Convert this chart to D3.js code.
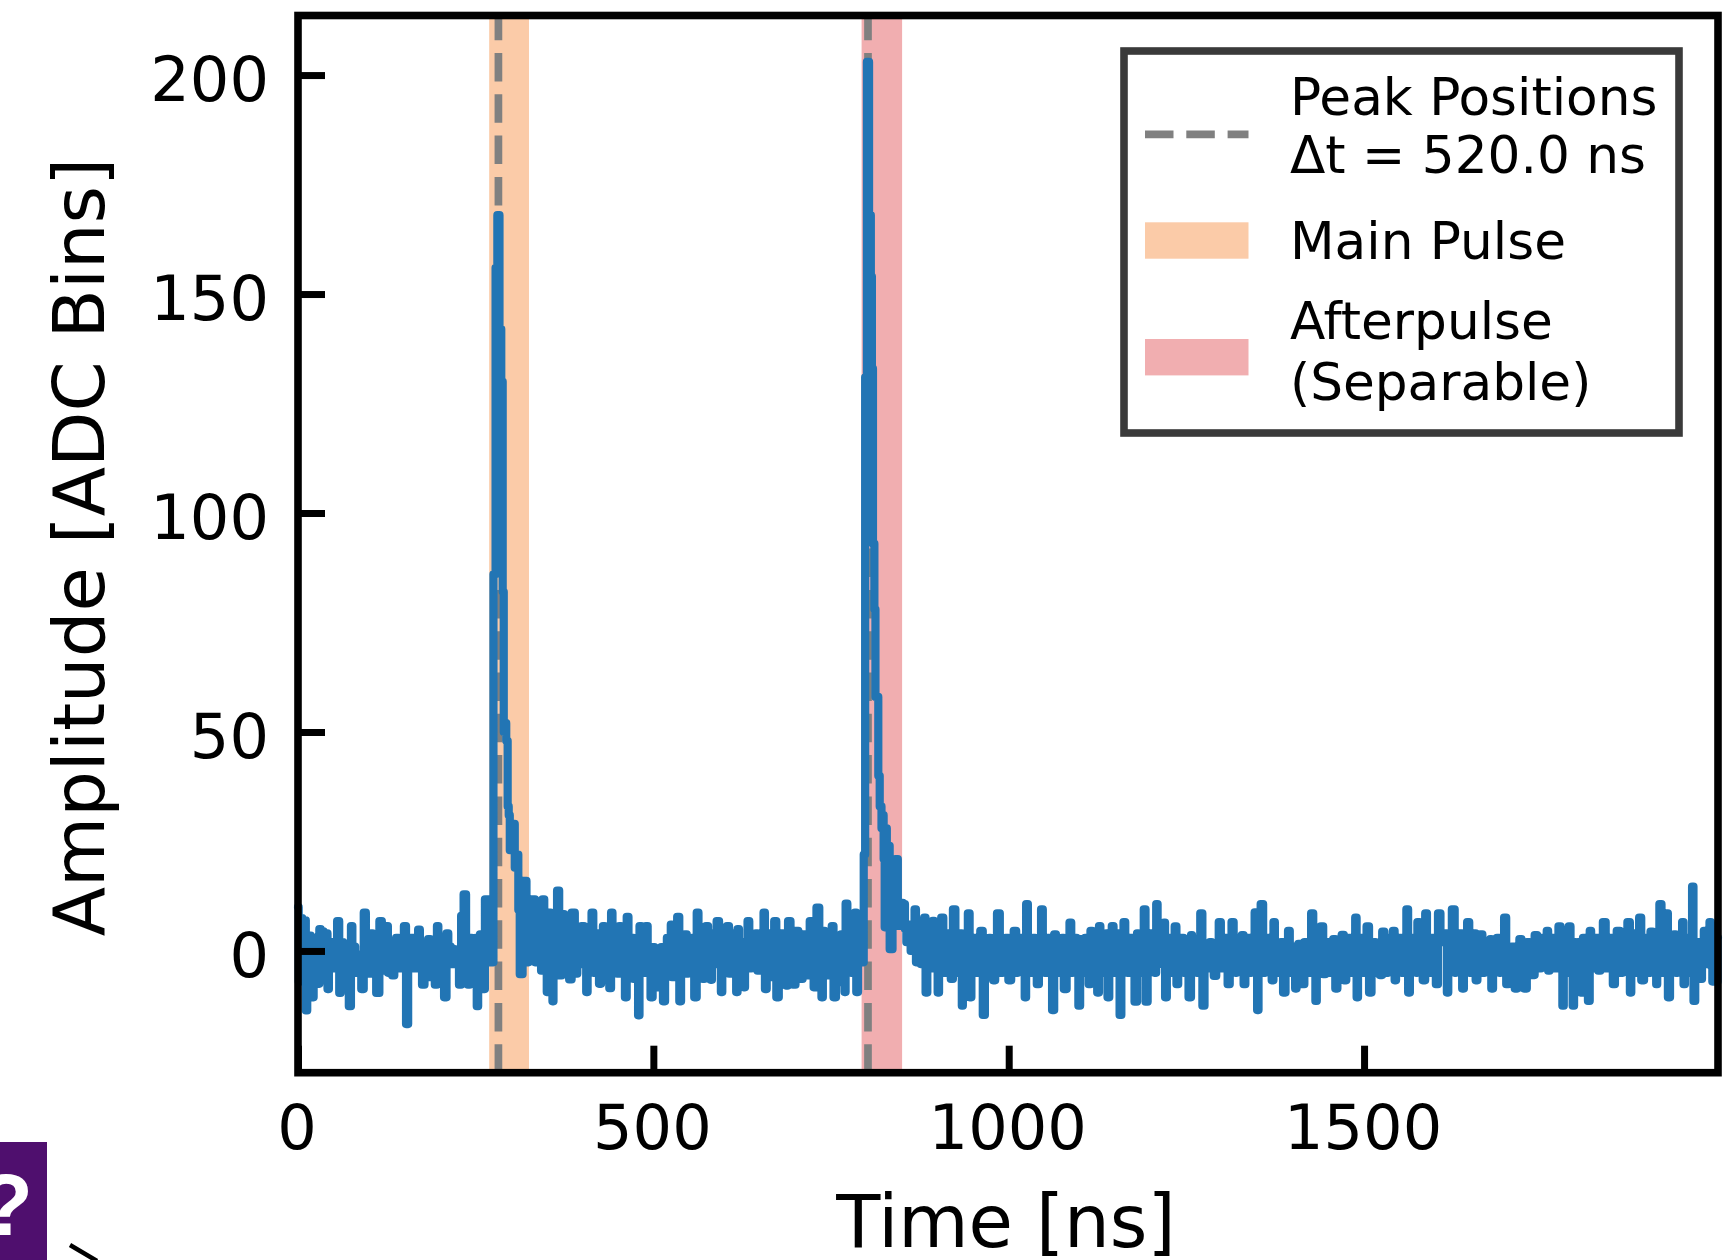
<!DOCTYPE html>
<html>
<head>
<meta charset="utf-8">
<script src="https://cdnjs.cloudflare.com/ajax/libs/d3/7.8.5/d3.min.js"></script>
<style>
body { margin: 0; background: #fff; }
svg { display: block; filter: blur(0.6px); }
text { font-family: "DejaVu Sans"; fill: #000; }
</style>
</head>
<body>
<script>
//pseudo global variables: [time ns, amplitude ADC bins]
//upper side of the waveform, spikes and shoulders
var upperPoints = [[0,10],[5,7.5],[10,7],[17,3.5],[23,3],[31,5],[36,4.5],[41,4],[50,2],[57,6.8],[66,1],[75,5.7],[84,-0.8],[94,8.75],[103,4],[116,6.8],[125,5.7],[139,3],[151,5.7],[161,3],[170,4.9],[186,2.7],[196,5.7],[203,1],[210,4],[219,0.4],[231,8],[235,12.9],[243,3],[251,3],[257,3.8],[264,11.8],[268,11.8],
    [277,86],[279,156],[282,168],[285,142],[287,130],[289,82],[292,52],[294,48],[297,31],[304,29],[309,22],[319,16],[325,11],[331,11.8],[338,8],[345,11.8],[354,8.75],[360,6],[366,13.8],[373,8.4],[380,5],[387,8.75],[394,4],[401,5.7],[408,4],[415,8.75],[422,4],[430,5.7],[436,4],[441,8.75],[447,4],[453,5.7],[458,4],[463,7.8],[472,3],[481,5.7],[490,5.7],[500,0.9],[512,0.9],[520,3],[526,6],[536,7.8],[547,3.8],[555,3],[562,8.75],[569,4],[575,5.7],[583,4],[591,6.8],[598,4],[605,5.7],[612,4],[619,5],[627,2],[634,6.8],[640,3],[645,4],[651,3],[656,8.75],[664,4],[671,6.8],[681,4],[691,6.8],[702,4.6],[711,3.8],[721,6.8],[732,9.9],[739,4.6],[746,3],[752,5.7],[765,3.8],[771,10.8],[778,4],[785,8.75],
    [797,22],[799,131],[802,203],[805,168],[807,154],[808,133],[810,93],[812,78],[814,58],[816,58],[817,40],[820,33],[823,31],[827,28],[830,24],[838,12],[843,21],[848,11],
    [854,10.7],[862,6],[869,9.5],[875,5],[882,7.6],[888,5],[894,6.9],[900,4],[906,7.6],[914,4],[923,9.5],[934,4],[945,8.6],[953,3],[962,4.6],[973,3],[985,8.6],[997,3],[1009,4.6],[1017,3],[1025,10.7],[1036,3],[1047,9.5],[1056,3],[1065,3.8],[1076,3],[1087,6.5],[1094,3],[1102,2.7],[1109,3],[1116,4.6],[1128,5.7],[1138,4],[1147,5.7],[1155,4],[1163,6.6],[1172,3],[1182,4],[1191,9.5],[1200,4],[1208,10.7],[1214,4],[1220,6.5],[1228,3],[1235,5.6],[1246,3],[1257,3.6],[1264,2],[1271,8.6],[1284,2],[1297,6.6],[1306,3],[1315,6.6],[1322,3],[1330,3.6],[1340,3],[1349,8.8],[1356,10.7],[1365,3],[1373,6.6],[1384,2],[1395,4.6],[1402,1],[1409,1.6],[1418,2],[1427,8.6],[1434,3],[1441,5.6],[1450,2],[1458,2.7],[1464,2],[1470,3.7],[1480,3],[1489,7.6],[1497,3],[1505,5.6],[1516,2],[1527,4.4],[1535,3],[1543,4.6],[1552,3],[1561,9.5],[1569,3],[1576,6.6],[1587,8.6],[1596,3],[1605,8.6],[1616,4],[1627,9.5],[1637,4],[1648,6.6],[1656,4],[1665,3.8],[1672,2],[1679,2.7],[1690,3],[1699,7.6],[1710,1],[1720,2.7],[1731,2],[1742,3.6],[1750,3],[1759,4.6],[1767,3],[1775,5.6],[1782,2],[1789,5.6],[1796,2],[1803,2],[1810,3],[1818,4.6],[1828,3],[1838,6.6],[1848,3],[1857,4.6],[1865,3],[1873,6.6],[1880,4],[1888,7.6],[1896,3],[1904,4.4],[1911,3],[1917,10.7],[1926,8.6],[1932,3],[1937,3.8],[1943,3],[1949,6.6],[1956,3],[1963,14.7],[1971,2],[1979,4.6],[1988,6.6],[1998,3]];
//lower side of the waveform, dips
var lowerPoints = [[2,-7],[7,-5],[12,-13.6],[21,-10.6],[29,-7.5],[36,-4],[42,-8.7],[50,-3],[59,-9.6],[66,-5],[74,-12.6],[83,-5],[91,-8.7],[97,-3],[102,-5.2],[113,-9.6],[123,-4.5],[128,-5],[134,-5.6],[144,-4],[153,-16.7],[165,-4],[176,-7.7],[186,-6],[195,-7.7],[202,-4],[208,-10.6],[217,-3],[228,-7.7],[240,-7.7],[246,-4],[252,-12.6],[262,-8.7],[273,-2.6],
    [290,50],[296,33],[299,23],[306,19],[311,9.4],[313,-5.3],[324,-2.6],[336,-2.6],[343,-4.5],[352,-9.4],[359,-11.5],[369,-5.6],[376,-4],[383,-6.5],[392,-5.2],[407,-9.4],[416,-5],[425,-7.5],[433,-5],[440,-8.5],[451,-5.2],[462,-10.6],[472,-6.4],[480,-14.7],[489,-5],[498,-10.6],[507,-8.3],[515,-11.5],[526,-6],[537,-11.5],[547,-5.2],[554,-5],[560,-10.6],[570,-6.4],[582,-6.6],[596,-9.4],[608,-5.2],[618,-9.4],[627,-8.3],[636,-4],[648,-4.5],[658,-8.7],[666,-6],[675,-10.6],[688,-7.9],[698,-7.7],[709,-6.4],[719,-5.6],[727,-8.3],[738,-10.6],[746,-5.6],[755,-10.6],[763,-7.1],[770,-9.4],[778,-5],[786,-9.4],[795,-2.6],
    [813,58],[822,28],[825,21],[826,5.4],[835,0.4],[845,5.7],
    [854,5],[862,0],[870,-2.6],[877,-3],[884,-9.5],[892,-4],[900,-9.5],[910,-5],[920,-6.4],[927,-5],[934,-12.5],[940,-5],[945,-10.6],[955,-5],[965,-14.6],[972,-5],[980,-6.7],[990,-5],[1002,-6.7],[1012,-5],[1024,-10.6],[1032,-5],[1041,-7.6],[1052,-5],[1063,-13.5],[1071,-5],[1079,-8.7],[1089,-5],[1099,-12.5],[1106,-5],[1114,-7.6],[1126,-9.5],[1133,-5],[1140,-10.6],[1148,-5],[1157,-14.6],[1168,-5],[1179,-11.6],[1186,-5],[1194,-11.6],[1207,-5],[1220,-10.6],[1228,-5],[1237,-7.6],[1246,-5],[1256,-10.6],[1265,-5],[1274,-12.5],[1282,-4],[1290,-5.7],[1300,-4],[1310,-7.6],[1320,-5],[1331,-7.6],[1340,-5],[1350,-13.5],[1360,-5],[1372,-6.7],[1380,-5],[1388,-9.5],[1396,-5],[1404,-8.6],[1414,-7.6],[1424,-5],[1433,-11.4],[1444,-5.3],[1452,-5],[1461,-8.6],[1473,-6.7],[1482,-5],[1490,-10.6],[1500,-5],[1509,-9.5],[1516,-5],[1524,-5.5],[1533,-5],[1543,-6.7],[1553,-5],[1563,-9.5],[1574,-5],[1585,-6.7],[1594,-5],[1603,-7.6],[1617,-9.5],[1628,-5],[1639,-8.6],[1648,-5],[1658,-6.7],[1668,-5],[1679,-8.6],[1690,-5],[1701,-7.6],[1714,-8.6],[1727,-8.6],[1738,-5.5],[1748,-4],[1759,-4.5],[1770,-4],[1780,-12.5],[1787,-5],[1795,-12.5],[1806,-9.5],[1817,-11.4],[1824,-4],[1831,-4.5],[1842,-4],[1852,-7.6],[1863,-5],[1875,-9.5],[1884,-5],[1892,-6.7],[1902,-5],[1911,-7.6],[1920,-5],[1929,-10.6],[1940,-5],[1950,-7.6],[1957,-5],[1964,-11.4],[1974,-6.4],[1981,-3],[1988,-3.4],[1992,-7],[1997,-7]];
//middle of the trace, the part that reads as a solid band
var bandPoints = [[14,-3],[19,2],[25,-3],[33,2],[39,-3],[45,1],[53,-4],[61,2],[69,-3],[78,1],[87,-3],[99,2],[107,-4],[120,2],[131,-3],[137,1],[147,-3],[157,2],[168,-3],[173,1],[180,-4],[190,1],[199,-3],[213,1],[222,-3],[225,0],[238,2],[249,-3],[255,1],[259,-3],
    [341,2],[348,-3],[357,2],[363,-3],[378,2],[397,-3],[404,1],[411,-3],[419,2],[428,-3],[444,-3],[456,2],[467,-3],[477,1],[485,-3],[494,0],[503,-3],[510,0],[518,-3],[523,1],[531,-3],[541,2],[551,-3],[565,2],[573,-3],[579,2],[587,-3],[594,2],[602,-3],[615,-2],[622,2],[631,-3],[643,1],[654,-3],[661,2],[669,-3],[678,1],[685,-3],[695,2],[706,-3],[715,2],[724,-3],[735,2],[743,-3],[750,1],[759,-3],[768,2],[775,-3],[782,2],[790,-2],
    [858,2],[866,2],[873,1],[880,2],[887,-3],[896,2],[904,-3],[917,2],[930,-3],[937,2],[950,-3],[958,2],[968,-3],[976,2],[982,-3],[994,2],[1005,-3],[1014,1],[1021,-3],[1029,2],[1038,-3],[1044,2],[1049,-3],[1059,2],[1068,-3],[1074,1],[1084,-3],[1092,2],[1097,-3],[1104,1],[1111,-3],[1119,2],[1123,-3],[1130,2],[1136,-3],[1143,2],[1151,-3],[1160,2],[1165,-3],[1175,1],[1183,-3],[1189,2],[1197,-3],[1203,2],[1211,-3],[1217,2],[1225,-3],[1232,2],[1240,-3],[1250,1],[1259,-3],[1268,1],[1277,-3],[1287,1],[1294,-3],[1303,2],[1312,-3],[1318,2],[1326,-3],[1335,2],[1343,-3],[1353,2],[1362,-3],[1368,2],[1376,-3],[1382,1],[1391,-3],[1399,1],[1406,-3],[1412,1],[1421,-3],[1430,2],[1437,-3],[1447,1],[1455,-3],[1467,1],[1477,-3],[1486,2],[1493,-3],[1502,2],[1512,-3],[1520,1],[1530,-3],[1538,2],[1547,-3],[1558,2],[1566,-3],[1572,2],[1580,-3],[1590,2],[1599,-3],[1610,2],[1620,-3],[1631,2],[1642,-3],[1652,2],[1661,-3],[1676,1],[1684,-3],[1695,2],[1705,-2],[1717,1],[1723,-3],[1734,1],[1745,-2],[1755,2],[1763,-2],[1772,2],[1778,-3],[1785,1],[1792,-3],[1799,1],[1813,-2],[1821,2],[1834,2],[1845,-2],[1854,2],[1868,-3],[1877,2],[1886,-3],[1899,2],[1908,-3],[1914,2],[1923,-3],[1935,1],[1946,-3],[1953,2],[1960,-3],[1968,2],[1977,-3],[1984,1],[1995,-3]];

var peakTimes = [282, 802];
var mainWindow = [269, 325];
var afterWindow = [793, 850];
var xTicks = [0, 500, 1000, 1500];
var yTicks = [0, 50, 100, 150, 200];
var xDomain = [0, 1998];
var yDomain = [-27.8, 213.6];

var blue = "#2275b4", gray = "#808080", orange = "#fbcba8", pink = "#f1aeb0";

var width = 1735, height = 1260;
var left = 298, right = 1718, top_ = 15.5, bottom = 1072.7;

var svg = d3.select("body").append("svg")
    .attr("width", width)
    .attr("height", height);

var x = d3.scaleLinear().domain(xDomain).range([left, right]);
var y = d3.scaleLinear().domain(yDomain).range([bottom, top_]);

//shaded pulse windows
svg.append("rect")
    .attr("x", x(mainWindow[0]))
    .attr("width", x(mainWindow[1]) - x(mainWindow[0]))
    .attr("y", top_)
    .attr("height", bottom - top_)
    .attr("fill", orange);
svg.append("rect")
    .attr("x", x(afterWindow[0]))
    .attr("width", x(afterWindow[1]) - x(afterWindow[0]))
    .attr("y", top_)
    .attr("height", bottom - top_)
    .attr("fill", pink);

//dashed peak lines, drawn from the bottom up so the dashes start at the axis
svg.selectAll(".peak")
    .data(peakTimes)
    .enter()
    .append("line")
    .attr("class", "peak")
    .attr("x1", function(d){ return x(d); })
    .attr("x2", function(d){ return x(d); })
    .attr("y1", bottom)
    .attr("y2", top_)
    .attr("stroke", gray)
    .attr("stroke-width", 7.7)
    .attr("stroke-dasharray", "28.5 12.8");

//waveform, all readings merged in time order; steps keep the spikes blunt like the original
var waveform = upperPoints.concat(lowerPoints, bandPoints).sort(function(a, b){
    return d3.ascending(a[0], b[0]);
});
var line = d3.line()
    .curve(d3.curveStep)
    .x(function(d){ return x(d[0]); })
    .y(function(d){ return y(d[1]); });

svg.append("path")
    .datum(waveform)
    .attr("d", line)
    .attr("fill", "none")
    .attr("stroke", blue)
    .attr("stroke-width", 8.2)
    .attr("stroke-linejoin", "round")
    .attr("stroke-linecap", "round");

//axes, ticks point inward
var xAxis = svg.append("g")
    .attr("transform", "translate(0," + bottom + ")")
    .call(d3.axisBottom(x).tickValues(xTicks).tickFormat(d3.format("d")).tickSize(-27));
var yAxis = svg.append("g")
    .attr("transform", "translate(" + left + ",0)")
    .call(d3.axisLeft(y).tickValues(yTicks).tickFormat(d3.format("d")).tickSize(-27).tickPadding(29));

xAxis.select(".domain").remove();
yAxis.select(".domain").remove();
svg.selectAll(".tick line").attr("stroke", "#000").attr("stroke-width", 7);
svg.selectAll(".tick text")
    .style("font-family", "DejaVu Sans")
    .style("font-size", "62.2px")
    .attr("fill", "#000");
xAxis.selectAll("text").attr("x", -1.5).attr("y", 76).attr("dy", 0);
yAxis.selectAll("text").attr("dy", "0.41em");

//frame
svg.append("rect")
    .attr("x", left)
    .attr("y", top_)
    .attr("width", right - left)
    .attr("height", bottom - top_)
    .attr("fill", "none")
    .attr("stroke", "#000")
    .attr("stroke-width", 7.6)
    .attr("stroke-linejoin", "miter");

//axis labels
svg.append("text")
    .attr("x", 1006)
    .attr("y", 1247)
    .attr("text-anchor", "middle")
    .style("font-size", "72.2px")
    .text("Time [ns]");
svg.append("text")
    .attr("transform", "translate(104,547) rotate(-90)")
    .attr("text-anchor", "middle")
    .style("font-size", "72px")
    .text("Amplitude [ADC Bins]");

//legend
var legend = svg.append("g");
legend.append("rect")
    .attr("x", 1124)
    .attr("y", 51)
    .attr("width", 555)
    .attr("height", 382)
    .attr("fill", "#fff")
    .attr("stroke", "#3a3a3a")
    .attr("stroke-width", 7.6);
legend.append("line")
    .attr("x1", 1145)
    .attr("x2", 1248.5)
    .attr("y1", 134.3)
    .attr("y2", 134.3)
    .attr("stroke", gray)
    .attr("stroke-width", 7.7)
    .attr("stroke-dasharray", "28.5 12.8");
legend.append("rect")
    .attr("x", 1145)
    .attr("y", 222.3)
    .attr("width", 103.5)
    .attr("height", 36.4)
    .attr("fill", orange);
legend.append("rect")
    .attr("x", 1145)
    .attr("y", 339)
    .attr("width", 103.5)
    .attr("height", 36.4)
    .attr("fill", pink);

var legendLabels = [
    ["Peak Positions", 115],
    ["\u0394t = 520.0 ns", 173.3],
    ["Main Pulse", 259.3],
    ["Afterpulse", 339],
    ["(Separable)", 400]
];
legend.selectAll(".legendLabel")
    .data(legendLabels)
    .enter()
    .append("text")
    .attr("class", "legendLabel")
    .attr("x", 1290)
    .attr("y", function(d){ return d[1]; })
    .style("font-size", "51.7px")
    .text(function(d){ return d[0]; });

//cropped bits of the page at the bottom left corner
svg.append("rect")
    .attr("x", 0)
    .attr("y", 1142)
    .attr("width", 47)
    .attr("height", 118)
    .attr("fill", "#4f0f6e");
svg.append("text")
    .attr("x", 6)
    .attr("y", 1235)
    .attr("text-anchor", "middle")
    .style("font-family", "Liberation Sans")
    .style("font-weight", "bold")
    .style("font-size", "88px")
    .style("fill", "#fff")
    .text("?");
svg.append("line")
    .attr("x1", 70)
    .attr("y1", 1245)
    .attr("x2", 97)
    .attr("y2", 1261)
    .attr("stroke", "#000")
    .attr("stroke-width", 4.5);
</script>
</body>
</html>
